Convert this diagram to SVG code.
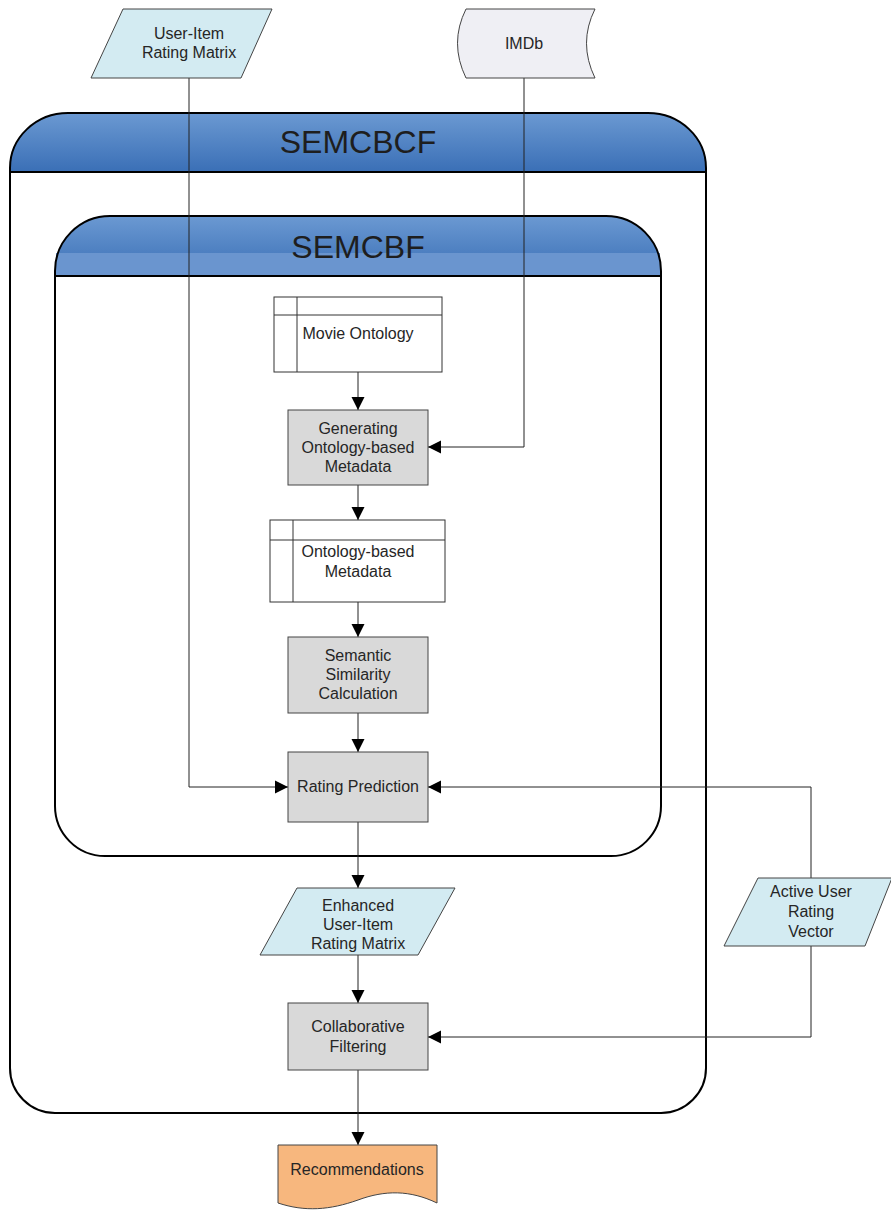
<svg xmlns="http://www.w3.org/2000/svg" width="891" height="1211" viewBox="0 0 891 1211">
<defs>
<linearGradient id="hdr" x1="0" y1="0" x2="0" y2="1">
<stop offset="0" stop-color="#6b99d2"/>
<stop offset="1" stop-color="#3a6fb6"/>
</linearGradient>
<marker id="ah" markerWidth="14" markerHeight="14" refX="13" refY="7" orient="auto" markerUnits="userSpaceOnUse">
<path d="M0,0.5 L13,7 L0,13.5 Z" fill="#000"/>
</marker>
<style>
.t{font-family:"Liberation Sans",Arial,sans-serif;font-size:16px;fill:#262626;text-anchor:middle}
.title{font-family:"Liberation Sans",Arial,sans-serif;font-size:32px;fill:#1e1e1e;text-anchor:middle}
.cont{fill:#fff;stroke:#000;stroke-width:2}
.proc{fill:#d9d9d9;stroke:#444;stroke-width:1}
.io{fill:#d3ebf2;stroke:#444;stroke-width:1}
.store{fill:#fff;stroke:#333;stroke-width:1}
.ca{fill:none;stroke:#222;stroke-width:1;marker-end:url(#ah)}
</style>
</defs>
<g id="semcbcf">
<path class="cont" d="M10,172 L10,1068 A45,45 0 0 0 55,1113 L661,1113 A45,45 0 0 0 706,1068 L706,172 Z"/>
<path d="M10,172 L10,168 A58,55 0 0 1 68,113 L648,113 A58,55 0 0 1 706,168 L706,172 Z" fill="url(#hdr)" stroke="#000" stroke-width="2"/>
<text class="title" x="358" y="153">SEMCBCF</text>
</g>
<g id="semcbf">
<path class="cont" d="M55,276 L55,806 A50,50 0 0 0 105,856 L611,856 A50,50 0 0 0 661,806 L661,276 Z"/>
<path d="M55,276 L55,271 A55,55 0 0 1 110,216 L606,216 A55,55 0 0 1 661,271 L661,276 Z" fill="url(#hdr)"/>
<rect x="56" y="253" width="604" height="23" fill="#6a95cf"/>
<path d="M55,276 L55,271 A55,55 0 0 1 110,216 L606,216 A55,55 0 0 1 661,271 L661,276 Z" fill="none" stroke="#000" stroke-width="2"/>
<text class="title" x="358" y="258">SEMCBF</text>
</g>
<g id="connectors">
<path class="ca" d="M189,78 L189,787 L288,787"/>
<path class="ca" d="M524,78 L524,447 L428,447"/>
<path class="ca" d="M358,372 L358,410"/>
<path class="ca" d="M358,485 L358,520"/>
<path class="ca" d="M358,602 L358,637"/>
<path class="ca" d="M358,713 L358,752"/>
<path class="ca" d="M811,878 L811,787 L428,787"/>
<path class="ca" d="M358,822 L358,888"/>
<path class="ca" d="M358,955 L358,1003"/>
<path class="ca" d="M811,946 L811,1037 L428,1037"/>
<path class="ca" d="M358,1070 L358,1145"/>
</g>
<g id="user-item-rating-matrix">
<polygon class="io" points="123,9 272,9 241,78 91,78"/>
<text class="t" x="189" y="39">User-Item</text>
<text class="t" x="189" y="58">Rating Matrix</text>
</g>
<g id="imdb">
<path d="M466,9 L595,9 Q578,43 595,78 L466,78 Q449,43 466,9 Z" fill="#efeff4" stroke="#444" stroke-width="1"/>
<text class="t" x="524" y="49">IMDb</text>
</g>
<g id="movie-ontology">
<rect class="store" x="274" y="297" width="168" height="75"/>
<line class="store" x1="274" y1="315" x2="442" y2="315"/>
<line class="store" x1="297" y1="297" x2="297" y2="372"/>
<text class="t" x="358" y="339">Movie Ontology</text>
</g>
<g id="generating-metadata">
<rect class="proc" x="288" y="410" width="140" height="75"/>
<text class="t" x="358" y="434">Generating</text>
<text class="t" x="358" y="453">Ontology-based</text>
<text class="t" x="358" y="472">Metadata</text>
</g>
<g id="ontology-based-metadata">
<rect class="store" x="270" y="520" width="175" height="82"/>
<line class="store" x1="270" y1="540" x2="445" y2="540"/>
<line class="store" x1="293" y1="520" x2="293" y2="602"/>
<text class="t" x="358" y="557">Ontology-based</text>
<text class="t" x="358" y="577">Metadata</text>
</g>
<g id="semantic-similarity">
<rect class="proc" x="288" y="637" width="140" height="76"/>
<text class="t" x="358" y="661">Semantic</text>
<text class="t" x="358" y="680">Similarity</text>
<text class="t" x="358" y="699">Calculation</text>
</g>
<g id="rating-prediction">
<rect class="proc" x="288" y="752" width="140" height="70"/>
<text class="t" x="358" y="792">Rating Prediction</text>
</g>
<g id="enhanced-matrix">
<polygon class="io" points="297,888 455,888 418,955 260,955"/>
<text class="t" x="358" y="911">Enhanced</text>
<text class="t" x="358" y="930">User-Item</text>
<text class="t" x="358" y="949">Rating Matrix</text>
</g>
<g id="collaborative-filtering">
<rect class="proc" x="288" y="1003" width="140" height="67"/>
<text class="t" x="358" y="1032">Collaborative</text>
<text class="t" x="358" y="1052">Filtering</text>
</g>
<g id="active-user-vector">
<polygon class="io" points="758,878 892,878 865,946 724,946"/>
<text class="t" x="811" y="897">Active User</text>
<text class="t" x="811" y="917">Rating</text>
<text class="t" x="811" y="937">Vector</text>
</g>
<g id="recommendations">
<path d="M278,1145 L437,1145 L437,1203 C410,1190 385,1190 358,1200 C330,1210 305,1212 278,1203 Z" fill="#f7b77e" stroke="#444" stroke-width="1"/>
<text class="t" x="357" y="1175">Recommendations</text>
</g>
</svg>
